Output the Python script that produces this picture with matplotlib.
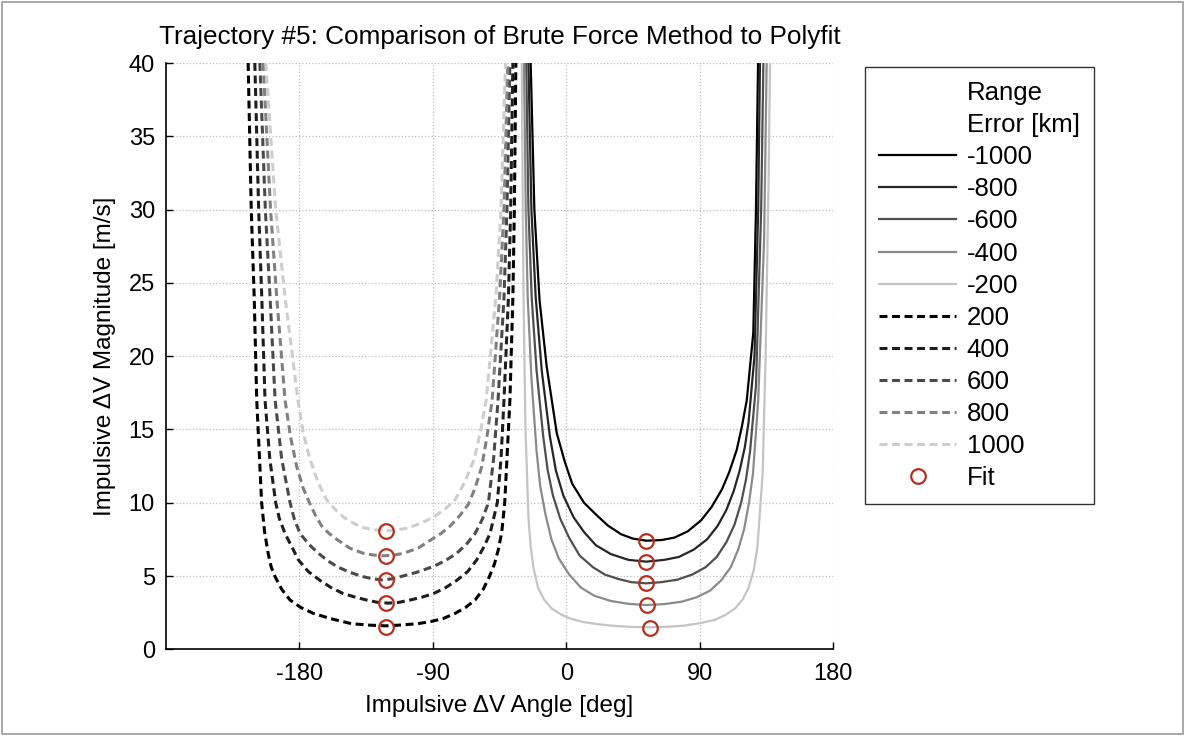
import matplotlib
matplotlib.use("Agg")
import matplotlib.pyplot as plt
from matplotlib.lines import Line2D
from matplotlib.patches import Rectangle

plt.rcParams['font.family'] = ['Liberation Sans', 'DejaVu Sans']
plt.rcParams['axes.unicode_minus'] = False

# range error labels [km]
neg_labels = ['-1000', '-800', '-600', '-400', '-200']
pos_labels = ['200', '400', '600', '800', '1000']

# negative range errors (solid, right bowl): angle [deg], magnitude [m/s]
ang_m1000 = [-24, -21.5, -18, -13.2, -6.4, -1, 4, 12, 20, 28, 37, 45, 54, 64, 73, 82, 91, 98, 105,
             110, 115, 118.5, 121.8, 126.2, 128, 129.4]
mag_m1000 = [40, 30, 23.8, 19.3, 14.75, 12.8, 11.3, 10.0, 9.2, 8.45, 7.85, 7.55, 7.41, 7.45, 7.62,
             8.05, 8.8, 9.7, 10.9, 12.1, 13.6, 15.2, 17, 21.6, 30, 40]
ang_m800 = [-25.5, -23.5, -20.6, -16.5, -11, -7, -2, 5, 12, 20, 30, 42, 54, 66, 76, 86, 95, 102,
            108, 113, 117, 120.5, 123, 127, 129.5, 130.7]
mag_m800 = [40, 30, 24, 19, 14.5, 12.2, 10.5, 9.0, 8.0, 7.1, 6.5, 6.1, 5.98, 6.1, 6.3, 6.8, 7.5,
            8.4, 9.5, 10.8, 12.2, 13.8, 15.5, 20, 30, 40]
ang_m600 = [-27, -25.5, -23.3, -20, -15.5, -12.5, -9, -4, 2, 9, 18, 26, 35, 44, 54, 64, 75, 85, 94,
            101.5, 108, 113.5, 118, 121.3, 124, 128, 131.5, 133]
mag_m600 = [40, 30, 24, 19, 14.5, 12.2, 10.5, 8.9, 7.6, 6.4, 5.6, 5.1, 4.8, 4.58, 4.5, 4.58, 4.75,
            5.1, 5.6, 6.3, 7.3, 8.5, 10, 11.6, 13.5, 18, 30, 40]
ang_m400 = [-28.5, -27.3, -26, -23.5, -20, -17.5, -14, -10, -5, 2, 10, 19, 30, 42, 54, 66, 78, 88,
            97, 104.5, 111, 116, 120, 123.3, 126, 129.5, 133.5, 135.2]
mag_m400 = [40, 30, 24, 18.5, 13.5, 11.1, 9.2, 7.5, 6.2, 5.1, 4.2, 3.65, 3.3, 3.1, 3.02, 3.08, 3.25,
            3.55, 4.0, 4.7, 5.6, 6.8, 8.2, 10, 12, 17, 28, 40]
ang_m200 = [-30, -29.3, -28.8, -27.5, -25.5, -24, -22, -19, -15, -10, -4, 3, 12, 21, 32, 44, 56, 68,
            80, 90, 100, 107.5, 114, 119, 123, 126.5, 129, 132.5, 134.5, 136.5, 137.5]
mag_m200 = [40, 30, 24, 15, 9, 7, 5.5, 4.2, 3.4, 2.8, 2.4, 2.08, 1.85, 1.72, 1.6, 1.53, 1.5, 1.54,
            1.62, 1.78, 2.0, 2.35, 2.8, 3.4, 4.2, 5.4, 7, 12, 20, 32, 40]

# positive range errors (dashed, left bowl)
ang_p200 = [-214.6, -212.5, -210.5, -208.8, -205.5, -203.5, -201, -199, -196.4, -192, -186.3, -179,
            -170.6, -159.3, -145, -133, -122, -111, -100, -91, -83, -75, -68, -61.5, -56, -51.9,
            -48.5, -45.8, -43.5, -41.5, -38, -36, -35, -34]
mag_p200 = [40, 30, 24, 17, 10, 8, 6.5, 5.6, 4.95, 4.1, 3.36, 2.85,
            2.45, 2.1, 1.75, 1.65, 1.6, 1.66, 1.75, 1.9, 2.1, 2.45, 2.85, 3.36, 4.1, 4.95,
            5.8, 6.8, 8, 10, 17, 24, 30, 40]
ang_p400 = [-210.1, -207.5, -205.4, -203.2, -200, -196, -193.5, -189.7, -180.7, -174, -166.1, -158.5,
            -150.4, -142, -134.6, -127, -120, -113, -105.4, -97.5, -89.6, -81.5, -73.9, -66.5, -60.4,
            -55.5, -51.4, -46.5, -44, -42, -39, -37.5, -36]
mag_p400 = [40, 30, 24, 17, 13, 10, 8.9, 7.9, 6.1, 5.3, 4.7, 4.2,
            3.8, 3.55, 3.36, 3.2, 3.15, 3.2, 3.36, 3.55, 3.8, 4.2, 4.7, 5.3, 6.1,
            7.0, 7.9, 10, 13, 17, 24, 30, 40]
ang_p600 = [-206.7, -203, -199.8, -196.4, -192, -186.3, -183.5, -179.6, -173.5, -167.2, -161, -154.8,
            -146, -136.9, -130, -124, -118, -112, -101, -89.6, -81.5, -73.9, -67.5, -61.5, -56.5,
            -52.5, -49, -46, -42, -40, -38]
mag_p600 = [40, 30, 24, 17, 13, 10, 8.9, 7.9, 7.15, 6.55, 6.05, 5.65,
            5.25, 4.95, 4.8, 4.73, 4.8, 4.95, 5.25, 5.65, 6.05, 6.55, 7.15, 7.9, 8.9,
            10, 13, 17, 24, 30, 40]
ang_p800 = [-204.5, -199.5, -195.3, -189.7, -186, -181.8, -177.5, -172.8, -169, -164.9, -160, -154.8,
            -146, -136.9, -130, -123, -116, -109.9, -100, -90.7, -84.5, -78.4, -72, -66, -61.5,
            -57, -53.5, -50, -45, -42, -39.5]
mag_p800 = [40, 30, 24, 17, 14.5, 12.45, 11, 9.9, 9.1, 8.4, 7.9, 7.5,
            6.9, 6.55, 6.43, 6.38, 6.43, 6.55, 6.9, 7.5, 7.9, 8.4, 9.1, 9.9, 11,
            12.45, 14.5, 17, 24, 30, 40]
ang_p1000 = [-202.7, -196, -189.7, -181, -177.5, -173, -167.5, -161.6, -155.5, -150, -143.5, -137,
             -129, -121, -113.5, -106, -98, -90, -82.5, -75, -68.5, -62, -58, -54, -47.5, -44, -41]
mag_p1000 = [40, 30, 24, 17, 14.8, 13, 11.4, 10.2, 9.5, 9, 8.6, 8.3,
             8.15, 8.1, 8.15, 8.3, 8.6, 9, 9.5, 10.2, 11.4, 13, 14.8, 17, 24, 30, 40]

# polyfit minimum points
fit_ang = [-121.8, -121.8, -121.8, -121.8, -121.8, 53.5, 53.5, 53.8, 54.2, 56.5]
fit_mag = [1.54, 3.14, 4.73, 6.36, 8.09, 7.41, 5.98, 4.50, 3.02, 1.43]

neg_curves = [(ang_m1000, mag_m1000), (ang_m800, mag_m800), (ang_m600, mag_m600),
              (ang_m400, mag_m400), (ang_m200, mag_m200)]
pos_curves = [(ang_p200, mag_p200), (ang_p400, mag_p400), (ang_p600, mag_p600),
              (ang_p800, mag_p800), (ang_p1000, mag_p1000)]
neg_colors = ['#000000', '#262626', '#4f4f4f', '#8a8a8a', '#c4c4c4']
pos_colors = ['#000000', '#1e1e1e', '#4a4a4a', '#808080', '#cdcdcd']

fig = plt.figure(figsize=(11.85, 7.36), dpi=100)
ax = fig.add_axes([0.1401, 0.1178, 0.5629, 0.7966])

handles = [Line2D([], [], linestyle='none'), Line2D([], [], linestyle='none')]
labels = ['Range', 'Error [km]']
for (a, m), c, lab in zip(neg_curves, neg_colors, neg_labels):
    h, = ax.plot(a, m, color=c, lw=1.6, linestyle='-')
    handles.append(h)
    labels.append(lab)
for (a, m), c, lab in zip(pos_curves, pos_colors, pos_labels):
    h, = ax.plot(a, m, color=c, lw=2.2, linestyle=(0, (2.6, 1.5)))
    handles.append(h)
    labels.append(lab)
h, = ax.plot(fit_ang, fit_mag, linestyle='none', marker='o', markersize=10.5,
             markerfacecolor='none', markeredgecolor='#b5301e', markeredgewidth=1.6)
handles.append(h)
labels.append('Fit')

ax.set_xlim(-270, 180)
ax.set_ylim(0, 40)
ax.set_xticks([-180, -90, 0, 90, 180])
ax.set_yticks(range(0, 41, 5))
ax.grid(True, color='#bdbdbd', linestyle=':', linewidth=0.9)
ax.set_axisbelow(True)
ax.spines['top'].set_visible(False)
ax.spines['right'].set_visible(False)
ax.spines['left'].set_linewidth(1.2)
ax.spines['bottom'].set_linewidth(1.2)
ax.tick_params(direction='in', length=5, width=1, labelsize=17)
ax.tick_params(axis='x', pad=10)
ax.tick_params(axis='y', pad=8)

ax.set_xlabel('Impulsive \u0394V Angle [deg]', fontsize=17.5, labelpad=7)
ax.set_ylabel('Impulsive \u0394V Magnitude [m/s]', fontsize=17.5, labelpad=9)
fig.text(0.4215, 1 - 37 / 736, 'Trajectory #5: Comparison of Brute Force Method to Polyfit',
         ha='center', va='center', fontsize=18.8)

leg = fig.legend(handles, labels, loc='upper left', bbox_to_anchor=(0.730, 0.909),
                 fontsize=18.5, frameon=True, fancybox=False, borderaxespad=0,
                 handlelength=3.0, handletextpad=0.4, labelspacing=0.315,
                 borderpad=0.55)
leg.get_frame().set_edgecolor('black')
leg.get_frame().set_linewidth(1.0)

fig.patches.append(Rectangle((0.002, 0.003), 0.996, 0.994, transform=fig.transFigure,
                             fill=False, edgecolor='#9a9a9a', linewidth=1.2))

fig.savefig('out.png', dpi=100)
